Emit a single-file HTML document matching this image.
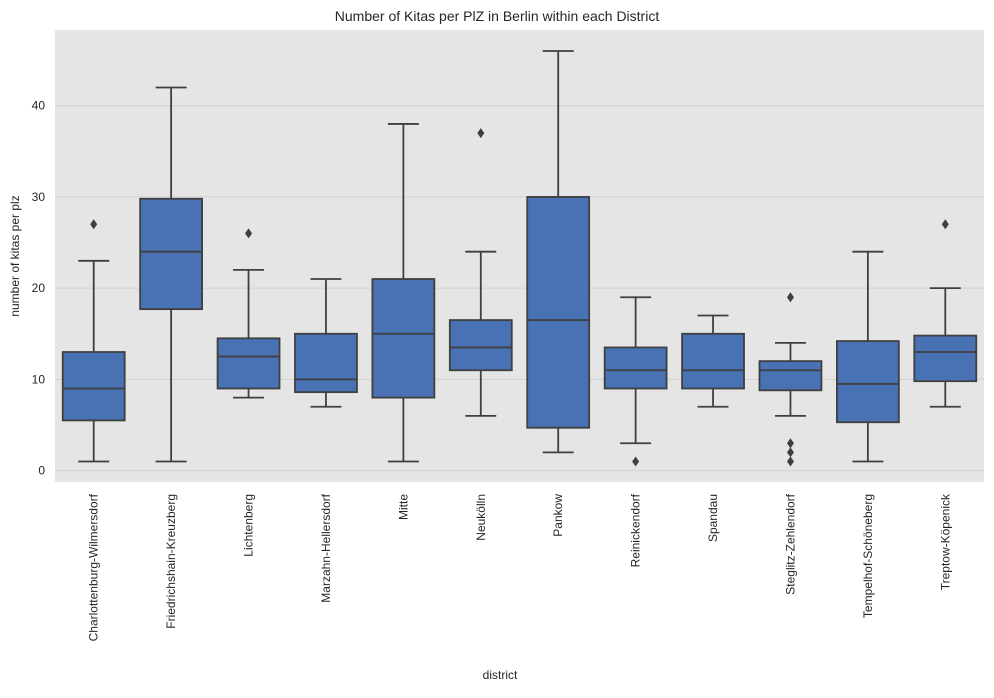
<!DOCTYPE html>
<html><head><meta charset="utf-8"><style>
body{margin:0;background:#fff;font-family:"Liberation Sans",sans-serif}
svg text{font-family:"Liberation Sans",sans-serif;fill:#262626}
</style></head><body>
<svg id="chart" width="994" height="693"></svg>
<script>
const categories=["Charlottenburg-Wilmersdorf","Friedrichshain-Kreuzberg","Lichtenberg","Marzahn-Hellersdorf","Mitte","Neukölln","Pankow","Reinickendorf","Spandau","Steglitz-Zehlendorf","Tempelhof-Schöneberg","Treptow-Köpenick"];
const whiskerLow=[1,1,8,7,1,6,2,3,7,6,1,7];
const q1=[5.5,17.7,9,8.6,8,11,4.7,9,9,8.8,5.3,9.8];
const medians=[9,24,12.5,10,15,13.5,16.5,11,11,11,9.5,13];
const q3=[13,29.8,14.5,15,21,16.5,30,13.5,15,12,14.2,14.8];
const whiskerHigh=[23,42,22,21,38,24,46,19,17,14,24,20];
const outliers=[[27],[],[26],[],[],[37],[],[1],[],[19,3,2,1],[],[27]];
const yTicks=[0,10,20,30,40];

const L=55,R=984,T=30,B=482,yMin=-1.25,yMax=48.3;
const svg=document.getElementById('chart');
const NS='http://www.w3.org/2000/svg';
function y(v){return B-(v-yMin)/(yMax-yMin)*(B-T);}
const band=(R-L)/categories.length;
function x(i){return L+band*(i+0.5);}
function mk(tag,attrs,parent){const e=document.createElementNS(NS,tag);for(const k in attrs)e.setAttribute(k,attrs[k]);(parent||svg).appendChild(e);return e;}

const bg=mk('rect',{x:L,y:T,width:R-L,height:B-T,fill:'#e5e5e5'});


yTicks.forEach(t=>{
  const g=mk('line',{x1:L,x2:R,y1:y(t),y2:y(t),stroke:'#d2d2d2','stroke-width':1});
  
  
  const tx=mk('text',{x:L-10,y:y(t)+4,'text-anchor':'end','font-size':12});
  tx.textContent=t;
  
  
});
const bw=band*0.8,ec='#3f3f3f';
categories.forEach((c,i)=>{
  const cx=x(i);
  const g=mk('g',{});
  
  
  mk('line',{x1:cx,x2:cx,y1:y(whiskerLow[i]),y2:y(q1[i]),stroke:ec,'stroke-width':1.8},g);
  mk('line',{x1:cx,x2:cx,y1:y(q3[i]),y2:y(whiskerHigh[i]),stroke:ec,'stroke-width':1.8},g);
  mk('line',{x1:cx-bw/4,x2:cx+bw/4,y1:y(whiskerLow[i]),y2:y(whiskerLow[i]),stroke:ec,'stroke-width':1.8},g);
  mk('line',{x1:cx-bw/4,x2:cx+bw/4,y1:y(whiskerHigh[i]),y2:y(whiskerHigh[i]),stroke:ec,'stroke-width':1.8},g);
  mk('rect',{x:cx-bw/2,y:y(q3[i]),width:bw,height:y(q1[i])-y(q3[i]),fill:'#4872b4',stroke:ec,'stroke-width':1.8},g);
  mk('line',{x1:cx-bw/2,x2:cx+bw/2,y1:y(medians[i]),y2:y(medians[i]),stroke:ec,'stroke-width':1.8},g);
  outliers[i].forEach(o=>{
    const d=mk('path',{d:`M${cx},${y(o)-5}L${cx+3.5},${y(o)}L${cx},${y(o)+5}L${cx-3.5},${y(o)}Z`,fill:ec},g);
    
    
  });
  const t=mk('text',{transform:`translate(${cx+4},${B+12}) rotate(-90)`,'text-anchor':'end','font-size':12});
  t.textContent=c;
  
  
});
</script>
<div style="position:absolute;left:0;top:0;width:994px;text-align:center;top:8px;font-size:14px;color:#262626">Number of Kitas per PlZ in Berlin within each District</div>
<div style="position:absolute;left:500px;top:668px;font-size:12px;color:#262626;transform:translateX(-50%)">district</div>
<div style="position:absolute;left:15px;top:256px;font-size:12px;color:#262626;transform:translate(-50%,-50%) rotate(-90deg);white-space:nowrap">number of kitas per plz</div>
</body></html>
